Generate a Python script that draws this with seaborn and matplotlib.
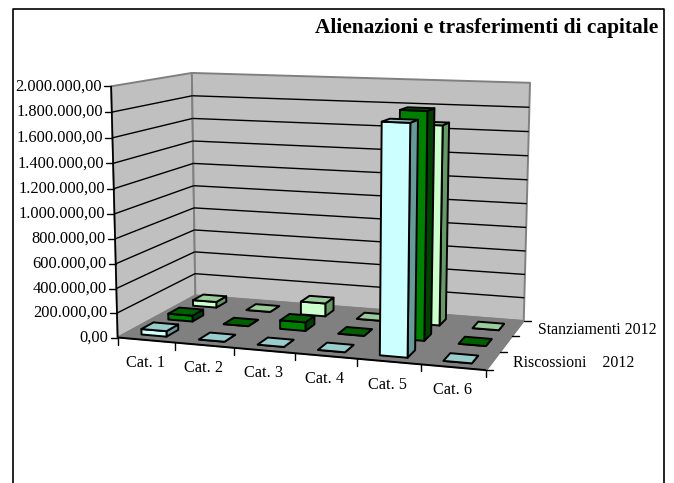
import numpy as np
import matplotlib
matplotlib.use("Agg")
import matplotlib.pyplot as plt
import seaborn as sns

sns.set_theme(style="white")
plt.rcParams['font.family'] = ['Liberation Serif', 'DejaVu Serif']

title = "Alienazioni e trasferimenti di capitale"
categories = ["Cat. 1", "Cat. 2", "Cat. 3", "Cat. 4", "Cat. 5", "Cat. 6"]
series_names = ["Riscossioni    2012", "", "Stanziamenti 2012"]
riscossioni = [45000, 0, 0, 0, 1790000, 0]
impegni = [50000, 0, 72000, 0, 1830000, 0]
stanziamenti = [50000, 0, 112000, 0, 1665000, 0]
y_ticks = [0, 200000, 400000, 600000, 800000, 1000000, 1200000, 1400000, 1600000, 1800000, 2000000]

front_cols = ["#CCFFFF", "#008000", "#CCFFCC"]
top_cols = ["#99CCCC", "#006000", "#99CC99"]
side_cols = ["#669999", "#004000", "#669966"]

# screen position of the plot box corners, used to fit the perspective
box = [(0, 0, 0, 118, 337), (0, 0, 1, 111, 86), (0, 1, 0, 195, 296), (0, 1, 1, 192, 73),
       (1, 1, 0, 524, 320), (1, 1, 1, 530, 83), (1, 0, 0, 486, 371)]
A = []
b = []
for x, y, z, u, v in box:
    A.append([x, y, z, 1, 0, 0, 0, 0, -u*x, -u*y, -u*z])
    A.append([0, 0, 0, 0, x, y, z, 1, -v*x, -v*y, -v*z])
    b += [u, v]
m = np.linalg.lstsq(np.array(A, float), np.array(b, float), rcond=None)[0]
P = np.append(m, 1).reshape(3, 4)


def proj(cat, ser, val):
    # cat in 0..6, ser in 0..3, val in chart units
    p = P @ np.array([cat/6, ser/3, val/2000000, 1])
    return p[0]/p[2], p[1]/p[2]


def quad(ax, pts, fc, ec="black", lw=1.4, zo=2):
    xy = [proj(*q) for q in pts]
    ax.fill([q[0] for q in xy], [q[1] for q in xy], fc=fc, ec=ec, lw=lw, zorder=zo, joinstyle="round")


def line(ax, a, b, color="black", lw=1.0, zo=1.5):
    pa, pb = proj(*a), proj(*b)
    ax.plot([pa[0], pb[0]], [pa[1], pb[1]], color=color, lw=lw, zorder=zo, solid_capstyle="butt")


fig = plt.figure(figsize=(6.74, 4.83), dpi=100)
ax = fig.add_axes([0, 0, 1, 1])
ax.set_xlim(0, 674)
ax.set_ylim(483, 0)
ax.axis("off")

# frame
ax.plot([13, 13, 664, 664], [490, 9, 9, 490], color="black", lw=1.2)

top = y_ticks[-1]
quad(ax, [(0, 0, 0), (0, 3, 0), (0, 3, top), (0, 0, top)], "#C0C0C0", "#808080", 1.4, 1)
quad(ax, [(0, 3, 0), (6, 3, 0), (6, 3, top), (0, 3, top)], "#C0C0C0", "#808080", 1.4, 1)
quad(ax, [(0, 0, 0), (6, 0, 0), (6, 3, 0), (0, 3, 0)], "#808080", "#808080", 1.0, 1.2)

for v in y_ticks[1:-1]:
    line(ax, (0, 0, v), (0, 3, v))
    line(ax, (0, 3, v), (6, 3, v))
line(ax, (0, 0, 0), (0, 0, top), lw=1.2)
line(ax, (0, 0, 0), (6, 0, 0), lw=1.4)
line(ax, (6, 0, 0), (6, 3, 0), color="#808080", lw=1.2)

# ticks and labels on the value axis
for v in y_ticks:
    x0, y0 = proj(0, 0, v)
    ax.plot([x0-7, x0], [y0, y0], color="black", lw=1.0)
    lab = f"{v:,.2f}".replace(",", "#").replace(".", ",").replace("#", ".")
    ax.text(x0-9, y0, lab, ha="right", va="center", fontsize=11.8, color="black")

# ticks and labels on the category axis
for i in range(7):
    x0, y0 = proj(i, 0, 0)
    ax.plot([x0, x0], [y0, y0+7], color="black", lw=1.0)
for i, c in enumerate(categories):
    x0, y0 = proj(i+0.5, 0, 0)
    ax.text(x0-1, y0+23, c, ha="center", va="center", fontsize=11.7, color="black")

# ticks and labels on the series axis
for i in range(4):
    x0, y0 = proj(6, i, 0)
    ax.plot([x0, x0+7], [y0, y0], color="black", lw=1.0)
for i, s in enumerate(series_names):
    if s:
        x0, y0 = proj(6, i+0.5, 0)
        ax.text(x0+20, y0+1.5, s, ha="left", va="center", fontsize=11.4, color="black")

ax.text(658, 28, title, ha="right", va="center", fontsize=15.4, fontweight="bold", color="black")

# bars, back row first so the front ones cover them
w = 0.22
d = 0.22
values = [riscossioni, impegni, stanziamenti]
for s in [2, 1, 0]:
    for i, v in enumerate(values[s]):
        x0, x1 = i+0.5-w, i+0.5+w
        y0, y1 = s+0.5-d, s+0.5+d
        zo = 3 + (2-s)*10 + i
        quad(ax, [(x1, y0, 0), (x1, y1, 0), (x1, y1, v), (x1, y0, v)], side_cols[s], zo=zo)
        quad(ax, [(x0, y0, 0), (x1, y0, 0), (x1, y0, v), (x0, y0, v)], front_cols[s], zo=zo)
        quad(ax, [(x0, y0, v), (x1, y0, v), (x1, y1, v), (x0, y1, v)], top_cols[s], zo=zo)

fig.savefig("out.png", dpi=100)
